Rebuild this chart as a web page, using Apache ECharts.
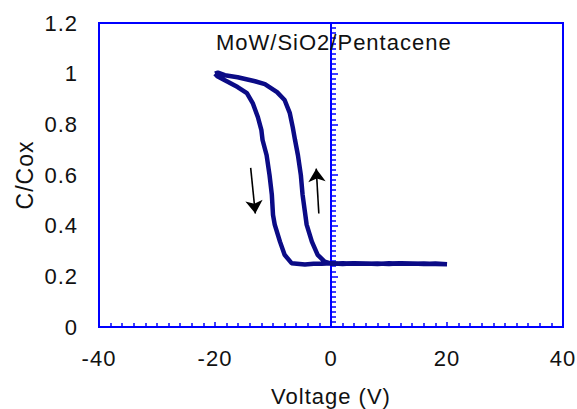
<!DOCTYPE html>
<html><head><meta charset="utf-8">
<script src="https://cdn.jsdelivr.net/npm/echarts@6/dist/echarts.min.js"></script>
<style>html,body{margin:0;padding:0;background:#fff}#c{width:577px;height:409px}#c text{letter-spacing:1px}</style>
</head><body><div id="c"></div>
<script>
// Axis ranges / ticks
const xTicks = [-40, -20, 0, 20, 40];
const yTicks = [0, 0.2, 0.4, 0.6, 0.8, 1, 1.2];
const titleText = 'MoW/SiO2/Pentacene';
const xName = 'Voltage (V)';
const yName = 'C/Cox';

// Sweep from -20 V toward +20 V (capacitance falls, left branch)
const downV = [-20.0, -19.6, -18.3, -16.1, -14.5, -13.5, -12.6, -12.0, -11.8, -11.1, -10.6, -10.2, -10.0, -9.7, -8.8, -8.0, -6.8, -4.5, -3.0, -1.6, 0, 2, 4, 6, 8, 10, 12, 14, 16, 18, 20];
const downC = [1.000, 0.990, 0.974, 0.947, 0.923, 0.884, 0.828, 0.777, 0.738, 0.678, 0.600, 0.522, 0.443, 0.404, 0.337, 0.285, 0.252, 0.247, 0.250, 0.250, 0.252, 0.249, 0.252, 0.250, 0.251, 0.249, 0.252, 0.250, 0.251, 0.249, 0.248];

// Return sweep from +20 V back to -20 V (capacitance rises, right branch)
const upV = [20, 18, 16, 14, 12, 10, 8, 6, 4, 2, 0.1, -1.1, -2.3, -3.3, -4.2, -4.5, -4.9, -5.2, -5.7, -6.2, -6.6, -7.1, -8.0, -9.3, -11.4, -13.1, -16.1, -18.3, -19.5, -20.0];
const upC = [0.250, 0.251, 0.249, 0.251, 0.250, 0.252, 0.249, 0.251, 0.250, 0.252, 0.250, 0.258, 0.285, 0.337, 0.404, 0.455, 0.522, 0.600, 0.678, 0.738, 0.789, 0.844, 0.896, 0.927, 0.959, 0.970, 0.986, 0.994, 1.004, 1.000];

// Sweep-direction arrows (start V, start C, end V, end C)
const arrowDown = [-13.85, 0.628, -13.05, 0.448];
const arrowUp = [-2.1, 0.448, -2.55, 0.625];

const loop = [];
downV.forEach((v, i) => loop.push([v, downC[i]]));
upV.forEach((v, i) => loop.push([v, upC[i]]));

const FONT = 'Liberation Sans, Arial, sans-serif';
const BLUE = '#0000ff';
const TXT = '#111';
const chart = echarts.init(document.getElementById('c'), null, {renderer: 'svg'});
chart.setOption({
  animation: false,
  backgroundColor: '#fff',
  title: {
    text: titleText, left: 216, top: 31, padding: 0,
    textStyle: {fontFamily: FONT, fontSize: 22, fontWeight: 'normal', color: TXT}
  },
  grid: {
    left: 99, right: 14, top: 23, bottom: 82,
    containLabel: false, outerBoundsMode: 'none',
    show: true, borderColor: BLUE, borderWidth: 2
  },
  xAxis: {
    type: 'value', min: xTicks[0], max: xTicks[xTicks.length - 1], interval: 20,
    name: xName, nameLocation: 'middle', nameGap: 58,
    nameTextStyle: {fontFamily: FONT, fontSize: 22, color: TXT},
    axisLine: {show: true, onZero: false, lineStyle: {color: BLUE, width: 2}},
    axisTick: {show: true, inside: true, length: 5, lineStyle: {color: BLUE, width: 1.5}},
    minorTick: {show: true, splitNumber: 10, length: 4, lineStyle: {color: BLUE, width: 1.5}},
    splitLine: {show: false},
    axisLabel: {margin: 20, fontFamily: FONT, fontSize: 22, color: TXT}
  },
  yAxis: [{
    type: 'value', min: yTicks[0], max: yTicks[yTicks.length - 1], interval: 0.2,
    name: yName, nameLocation: 'middle', nameGap: 55,
    nameTextStyle: {fontFamily: FONT, fontSize: 23, color: TXT},
    axisLine: {show: false, onZero: false},
    axisTick: {show: false},
    splitLine: {show: false},
    axisLabel: {margin: 21, fontFamily: FONT, fontSize: 22, color: TXT, padding: [9, 0, 0, 0]}
  }, {
    type: 'value', min: yTicks[0], max: yTicks[yTicks.length - 1], interval: 0.2,
    position: 'left',
    axisLine: {show: true, onZero: true, lineStyle: {color: BLUE, width: 2}},
    axisTick: {show: true, inside: true, length: 7, lineStyle: {color: BLUE, width: 1.5}},
    minorTick: {show: true, splitNumber: 10, length: 5, lineStyle: {color: BLUE, width: 1.5}},
    splitLine: {show: false},
    axisLabel: {show: false}
  }],
  series: [{
    type: 'line', data: loop, xAxisIndex: 0, yAxisIndex: 0,
    showSymbol: false, smooth: false,
    lineStyle: {color: '#0b0b86', width: 4.5},
    z: 3,
    markLine: {
      silent: true, symbol: ['none', 'arrow'], symbolSize: 13,
      label: {show: false},
      lineStyle: {color: '#000', width: 1.6, type: 'solid'},
      itemStyle: {color: '#000'},
      data: [
        [{coord: [arrowDown[0], arrowDown[1]]}, {coord: [arrowDown[2], arrowDown[3]]}],
        [{coord: [arrowUp[0], arrowUp[1]]}, {coord: [arrowUp[2], arrowUp[3]]}]
      ]
    }
  }]
});
</script></body></html>
